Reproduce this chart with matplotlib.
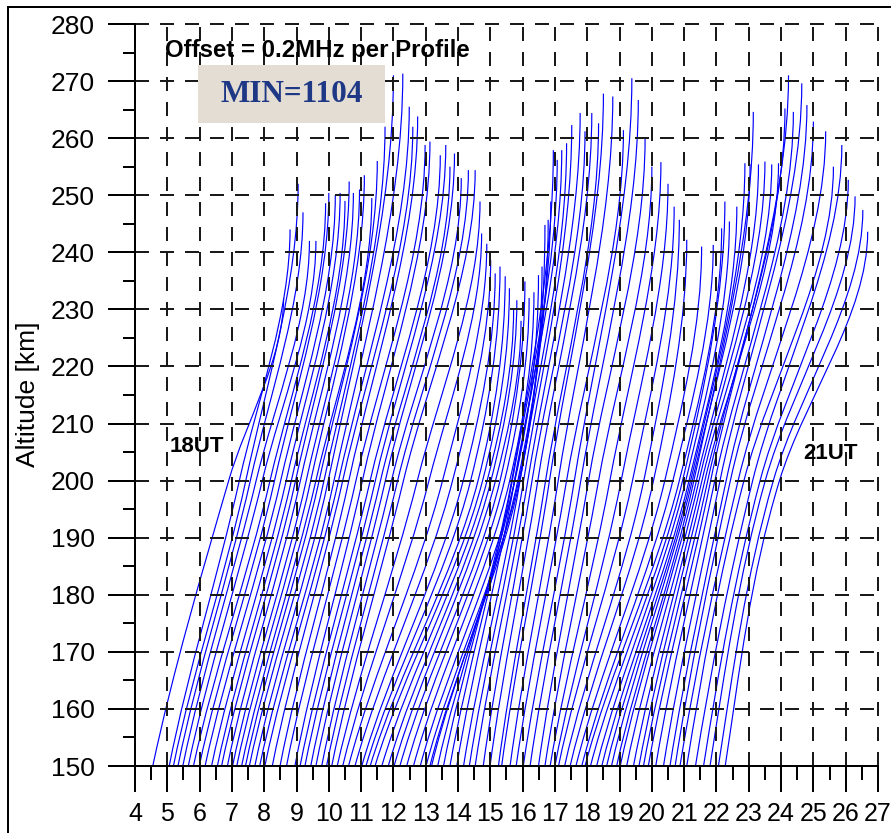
import numpy as np
import matplotlib
matplotlib.use("Agg")
import matplotlib.pyplot as plt
from matplotlib.path import Path
from matplotlib.patches import PathPatch, Rectangle
from matplotlib.lines import Line2D

plt.rcParams['font.family'] = ['Liberation Sans', 'DejaVu Sans']
plt.rcParams['lines.scale_dashes'] = False

# ---- profile data: frequency + offset (MHz) at 150 km and 200 km, and each profile's peak ----
start_freq = [4.55, 5.06, 5.19, 5.33, 5.48, 5.65, 5.81, 5.99, 6.17, 6.37,
              6.55, 6.68, 6.86, 7.02, 7.15, 7.30, 7.42, 7.54, 7.71, 7.86,
              8.02, 8.25, 8.49, 8.69, 8.95, 9.11, 9.26, 9.44, 9.60, 9.78,
              9.93, 10.09, 10.26, 10.43, 10.61, 10.81, 11.02, 11.15, 11.28, 11.43,
              11.64, 11.84, 12.02, 12.20, 12.41, 12.62, 12.83, 13.01, 13.13, 13.18,
              13.37, 13.55, 13.75, 13.96, 14.17, 14.35, 14.53, 14.78, 14.99, 15.25,
              15.35, 15.61, 15.80, 16.02, 16.23, 16.49, 16.69, 16.85, 17.00, 17.11,
              17.30, 17.47, 17.65, 17.83, 17.93, 18.10, 18.29, 18.45, 18.60, 18.75,
              18.91, 19.02, 19.22, 19.43, 19.60, 19.74, 19.89, 20.12, 20.36, 20.56,
              20.72, 20.87, 21.08, 21.35, 21.60, 21.80, 22.06, 22.27]

freq_200 = [6.90, 7.23, 7.43, 7.57, 7.75, 7.94, 8.18, 8.32, 8.51, 8.68,
            8.84, 8.97, 9.12, 9.30, 9.44, 9.60, 9.70, 9.85, 9.98, 10.16,
            10.30, 10.43, 10.62, 10.84, 11.04, 11.28, 11.44, 11.60, 11.75, 11.94,
            12.13, 12.31, 12.74, 13.10, 13.52, 13.83, 14.16, 14.39, 14.62, 14.76,
            14.90, 15.02, 15.16, 15.30, 15.44, 15.60, 15.76, 15.88, 15.91, 15.85,
            15.75, 15.66, 15.68, 15.75, 15.92, 16.03, 16.16, 16.29, 16.47, 16.71,
            16.83, 17.10, 17.36, 17.60, 17.80, 18.04, 18.35, 18.70, 19.05, 19.40,
            19.75, 20.05, 20.40, 20.65, 20.85, 20.95, 21.05, 21.15, 21.20, 21.25,
            21.30, 21.38, 21.46, 21.55, 21.64, 21.73, 21.82, 21.95, 22.11, 22.30,
            22.43, 22.67, 22.85, 23.12, 23.35, 23.51, 23.76, 23.95]

peak_freq = [8.60, 8.80, 9.05, 9.20, 9.40, 9.60, 9.90, 10.00, 10.20, 10.35,
             10.50, 10.63, 10.76, 10.95, 11.10, 11.33, 11.50, 11.74, 12.00, 12.29,
             12.49, 12.60, 12.75, 12.98, 13.13, 13.45, 13.62, 13.75, 13.89, 14.10,
             14.32, 14.53, 14.68, 14.73, 14.89, 15.01, 15.15, 15.30, 15.46, 15.59,
             15.72, 15.82, 15.95, 16.07, 16.20, 16.35, 16.49, 16.60, 16.69, 16.79,
             16.87, 16.95, 17.07, 17.21, 17.36, 17.52, 17.78, 17.93, 18.14, 18.35,
             18.50, 18.79, 19.12, 19.38, 19.58, 19.79, 20.00, 20.28, 20.50, 20.69,
             20.85, 21.08, 21.54, 21.90, 22.16, 22.26, 22.40, 22.63, 22.88, 23.04,
             23.14, 23.30, 23.50, 23.71, 23.92, 24.12, 24.23, 24.38, 24.64, 24.80,
             25.00, 25.38, 25.62, 25.88, 26.08, 26.29, 26.53, 26.68]

peak_alt = [232.0, 244.0, 252.0, 247.0, 242.0, 242.0, 248.6, 250.4, 250.0, 250.4,
            249.0, 252.4, 250.4, 251.0, 253.5, 249.5, 256.0, 262.0, 271.0, 271.3,
            265.5, 262.0, 263.8, 258.8, 259.4, 257.0, 258.8, 255.0, 257.3, 253.0,
            254.4, 254.4, 248.9, 243.3, 241.5, 238.6, 236.3, 237.5, 235.8, 233.7,
            230.0, 231.6, 228.0, 234.9, 232.0, 233.0, 236.0, 237.5, 244.8, 245.7,
            248.9, 257.9, 256.2, 257.9, 259.1, 262.3, 264.4, 261.2, 264.4, 262.6,
            267.8, 267.3, 261.4, 270.5, 266.7, 260.0, 255.0, 255.8, 252.0, 248.0,
            245.7, 242.2, 241.0, 241.3, 244.2, 248.9, 245.4, 248.0, 255.6, 255.4,
            264.6, 255.4, 255.9, 255.4, 255.6, 265.2, 271.0, 264.6, 269.6, 265.8,
            262.9, 261.2, 255.0, 258.8, 252.7, 249.8, 247.4, 243.6]

base_alt = 150.0
mid_alt = 200.0

x_ticks = list(range(4, 28))
y_ticks = list(range(150, 281, 10))

# ---- figure and axes ----
W, H = 891, 833
fig = plt.figure(figsize=(W / 100, H / 100), dpi=100)
ax = fig.add_axes([135 / W, (H - 766) / H, 743 / W, 742 / H])
ax.set_xlim(4, 27)
ax.set_ylim(150, 280)

px = 0.72  # points per pixel at 100 dpi

# each profile: two Bezier pieces, base -> 200 km -> peak, vertical at the peak
codes = [Path.MOVETO, Path.CURVE4, Path.CURVE4, Path.CURVE4,
         Path.CURVE4, Path.CURVE4, Path.CURVE4]
for f0, fm, f1, h1 in zip(start_freq, freq_200, peak_freq, peak_alt):
    lo = mid_alt - base_alt
    hi = h1 - mid_alt
    s_lo = (fm - f0) / lo
    s_hi = (f1 - fm) / hi
    w_hi = 0.7 if s_hi > s_lo else 0.5
    s_mid = (1 - w_hi) * s_lo + w_hi * s_hi
    s_start = 0.8 * s_lo
    verts = [(f0, base_alt),
             (f0 + s_start * lo / 3, base_alt + lo / 3),
             (fm - s_mid * lo / 3, mid_alt - lo / 3),
             (fm, mid_alt),
             (fm + s_mid * hi / 3, mid_alt + hi / 3),
             (f1, h1 - hi / 3),
             (f1, h1)]
    ax.add_patch(PathPatch(Path(verts, codes), fill=False,
                           edgecolor='#0000ff', lw=0.85, zorder=2))

# ---- axes styling ----
for side in ('top', 'right'):
    ax.spines[side].set_visible(False)
for side in ('left', 'bottom'):
    ax.spines[side].set_linewidth(2 * px)
    ax.spines[side].set_color('black')
    ax.spines[side].set_zorder(4)

ax.set_xticks(x_ticks)
ax.set_xticklabels([str(v) for v in x_ticks])
ax.set_xticks(np.arange(4.5, 27, 1.0), minor=True)
ax.set_yticks(y_ticks)
ax.set_yticklabels([str(v) for v in y_ticks])
ax.set_yticks(np.arange(155, 280, 10), minor=True)

ax.tick_params(axis='y', which='major', direction='out', length=27 * px,
               width=2 * px, pad=9.5, labelsize=19, colors='black')
ax.tick_params(axis='y', which='minor', direction='out', length=12 * px,
               width=2 * px)
ax.tick_params(axis='x', which='major', direction='out', length=26 * px,
               width=2 * px, pad=7, labelsize=18, colors='black')
ax.tick_params(axis='x', which='minor', direction='out', length=14 * px,
               width=2 * px)

ax.set_axisbelow(False)
ax.grid(True, which='major', color='#1a1a1a', lw=2 * px,
        linestyle=(0, (14 * px, 11 * px)))
for gl in ax.get_xgridlines() + ax.get_ygridlines():
    gl.set_clip_on(False)
    gl.set_zorder(3)

# ---- annotations ----
ax.text(4.93, 275.3, 'Offset = 0.2MHz per Profile', fontsize=17.3,
        fontweight='bold', color='black', ha='left', va='center', zorder=6)
ax.add_patch(Rectangle((5.95, 262.65), 5.79, 10.15, facecolor='#e3ddd3',
                       edgecolor='none', zorder=7))
ax.text(8.84, 267.7, 'MIN=1104', fontsize=22.5, fontweight='bold',
        family=['Liberation Serif', 'DejaVu Serif'], color='#1f3886',
        ha='center', va='center', zorder=8)
ax.text(5.08, 205.9, '18UT', fontsize=16, fontweight='bold', color='black',
        ha='left', va='center', zorder=6)
ax.text(24.68, 204.8, '21UT', fontsize=16, fontweight='bold', color='black',
        ha='left', va='center', zorder=6)

fig.text(28 / W, 1 - 394 / H, 'Altitude [km]', rotation=90, fontsize=19,
         ha='center', va='center')

# outer frame (top and left edges)
fig.add_artist(Line2D([8 / W, 8 / W], [0, 1 - 7 / H], transform=fig.transFigure,
                      color='black', lw=2 * px))
fig.add_artist(Line2D([8 / W, 1], [1 - 7 / H, 1 - 7 / H], transform=fig.transFigure,
                      color='black', lw=2 * px))

fig.savefig('out.png', dpi=100)
